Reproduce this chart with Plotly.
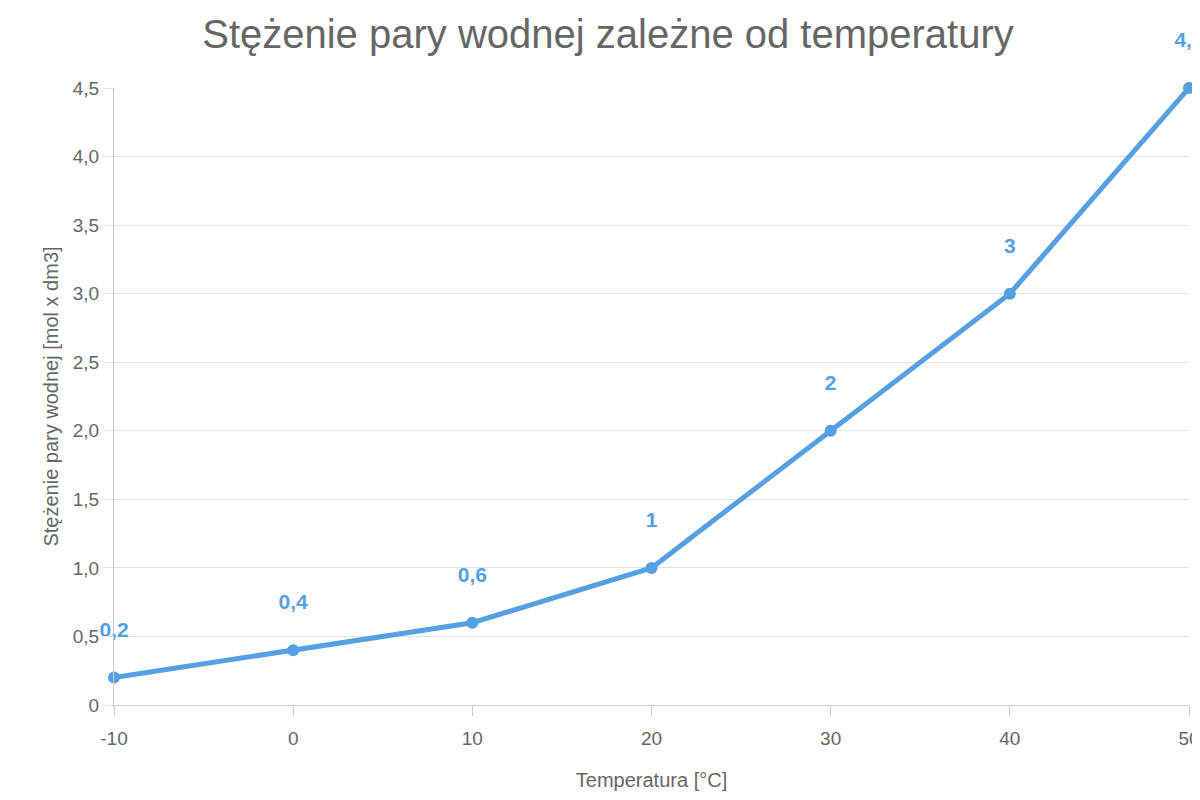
import plotly.graph_objects as go

temperatura = [-10, 0, 10, 20, 30, 40, 50]
x_tick_labels = ["-10", "0", "10", "20", "30", "40", "50"]
stezenie = [0.2, 0.4, 0.6, 1, 2, 3, 4.5]
y_ticks = [0, 0.5, 1, 1.5, 2, 2.5, 3, 3.5, 4, 4.5]
y_tick_labels = ["0", "0,5", "1,0", "1,5", "2,0", "2,5", "3,0", "3,5", "4,0", "4,5"]

labels = [str(v).replace(".", ",") for v in stezenie]
blue = "#559fe3"

fig = go.Figure(go.Scatter(
    x=temperatura, y=stezenie, mode="lines+markers+text",
    line=dict(color=blue, width=5), marker=dict(color=blue, size=12),
    text=labels, texttemplate="<b>%{text}</b><br> ", textposition="top center",
    textfont=dict(color=blue, size=21, family="Liberation Sans"),
    cliponaxis=False,
))

fig.update_layout(
    width=1200, height=800,
    margin=dict(l=106, r=19, t=80, b=103, autoexpand=False),
    plot_bgcolor="white", paper_bgcolor="white",
    font=dict(family="Liberation Sans", color="#666666", size=19),
    title=dict(text="Stężenie pary wodnej zależne od temperatury", x=0.5, xanchor="center",
               y=0.968, yanchor="middle", automargin=False, font=dict(size=40, color="#666666")),
    showlegend=False,
    xaxis=dict(range=[-10, 50], tickvals=temperatura, ticktext=x_tick_labels,
               showgrid=False, zeroline=False, automargin=False,
               showline=True, linecolor="#cccccc", linewidth=1, ticks="outside",
               ticklen=10, tickcolor="#cccccc", ticklabelstandoff=6,
               title=dict(text="Temperatura [°C]", font=dict(size=20), standoff=25)),
    yaxis=dict(range=[0, 4.5], tickvals=y_ticks, ticktext=y_tick_labels, automargin=False,
               gridcolor="#e3e3e3", zeroline=False, showline=True, linecolor="#cccccc",
               ticks="outside", ticklen=10, tickcolor="#e3e3e3",
               title=dict(text="Stężenie pary wodnej [mol x dm3]", font=dict(size=20), standoff=8)),
)
fig.write_html("out.html")
